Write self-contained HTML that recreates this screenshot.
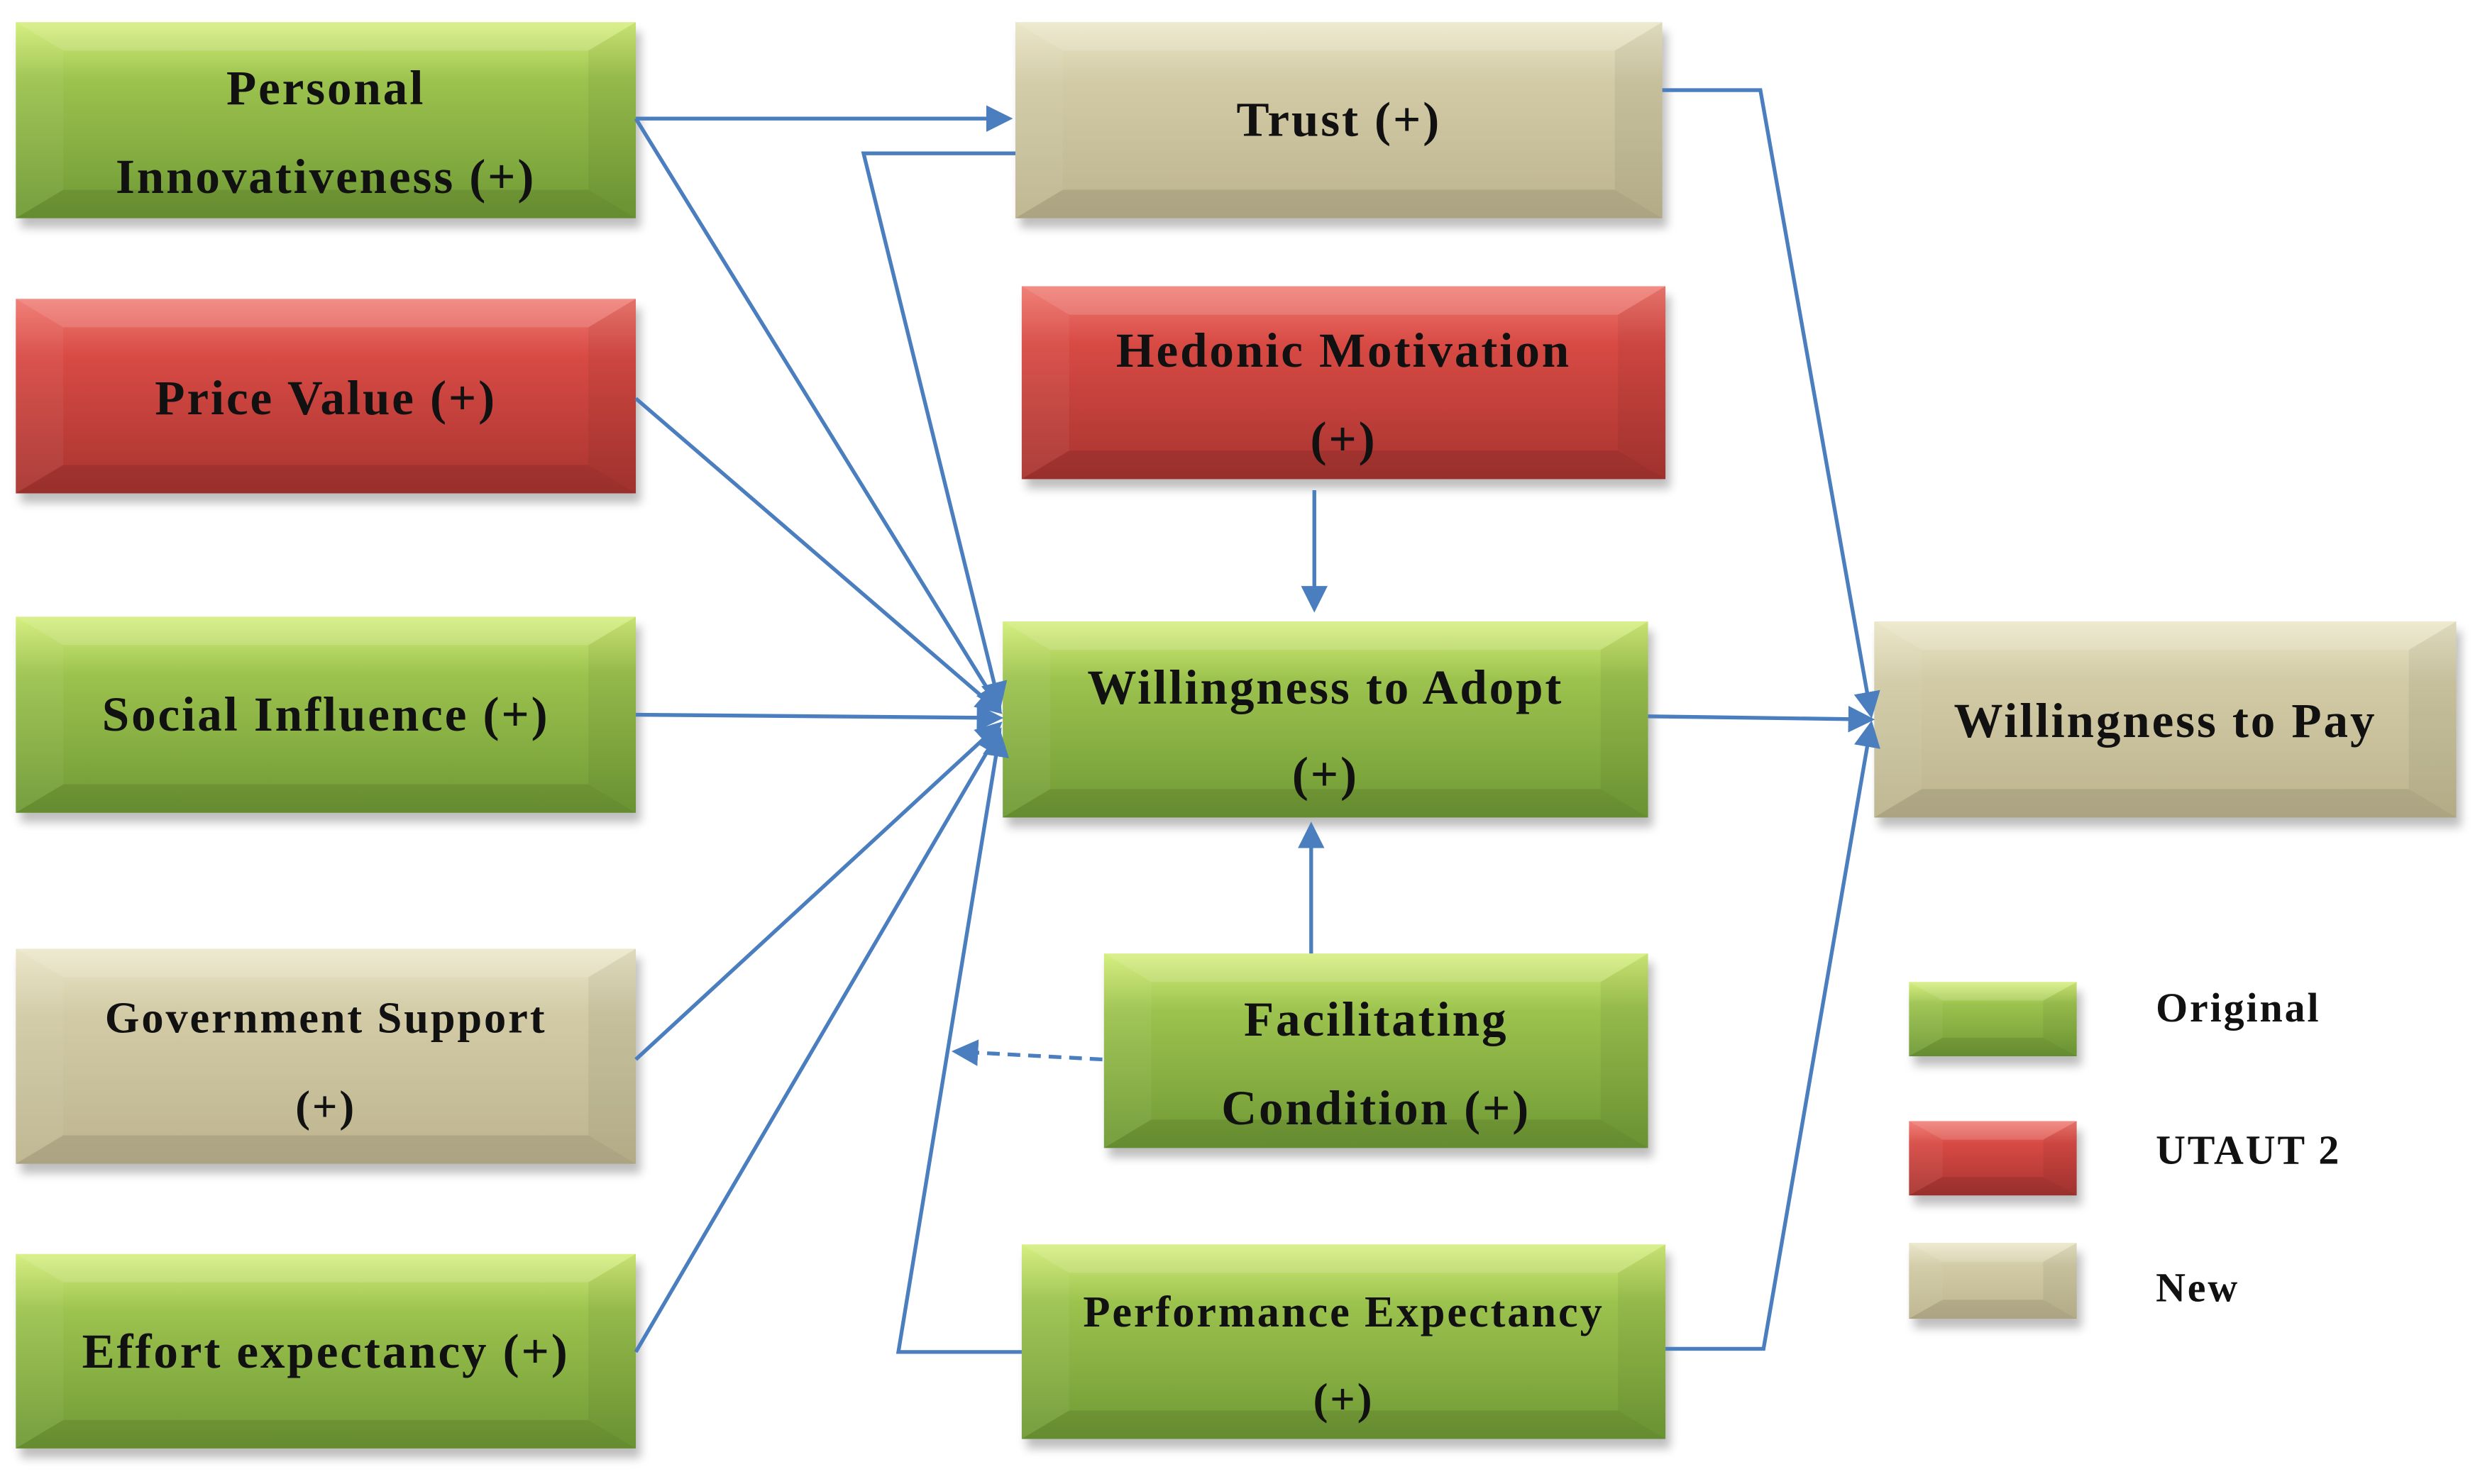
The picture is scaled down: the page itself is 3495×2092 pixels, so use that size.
<!DOCTYPE html>
<html><head><meta charset="utf-8"><style>
html,body{margin:0;padding:0;background:#fff;}
svg{display:block}
text{font-family:"Liberation Serif",serif;font-weight:bold;fill:#111;text-anchor:middle;letter-spacing:1.3px}
</style></head><body>
<svg width="3495" height="2092" viewBox="0 0 1568 938.5" preserveAspectRatio="none" xmlns="http://www.w3.org/2000/svg">
<defs>
<linearGradient id="g" x1="0" y1="0" x2="0" y2="1"><stop offset="0" stop-color="#d4ee7a"/><stop offset="0.3" stop-color="#9cc24e"/><stop offset="1" stop-color="#6f9a35"/></linearGradient>
<linearGradient id="r" x1="0" y1="0" x2="0" y2="1"><stop offset="0" stop-color="#f07a72"/><stop offset="0.3" stop-color="#d84a44"/><stop offset="1" stop-color="#a83430"/></linearGradient>
<linearGradient id="t" x1="0" y1="0" x2="0" y2="1"><stop offset="0" stop-color="#ebe6c8"/><stop offset="0.3" stop-color="#d2cba6"/><stop offset="1" stop-color="#bdb48e"/></linearGradient>
<filter id="sh" x="-10%" y="-10%" width="130%" height="140%"><feGaussianBlur stdDeviation="3"/></filter>
<marker id="a" markerWidth="7" markerHeight="7" refX="6" refY="3.5" orient="auto" markerUnits="strokeWidth"><path d="M0,0 L7,3.5 L0,7 z" fill="#4a7ebf"/></marker>
</defs>
<g fill="#888" opacity="0.55" filter="url(#sh)">
<rect x="13" y="20" width="392" height="124"/><rect x="13" y="195" width="392" height="123"/>
<rect x="13" y="396" width="392" height="124"/><rect x="13" y="606" width="392" height="136"/>
<rect x="13" y="799" width="392" height="123"/><rect x="645" y="20" width="409" height="124"/>
<rect x="649" y="187" width="407" height="122"/><rect x="637" y="399" width="408" height="124"/>
<rect x="701" y="609" width="344" height="123"/><rect x="649" y="793" width="407" height="123"/>
<rect x="1188" y="399" width="368" height="124"/>
<rect x="1210" y="627" width="106" height="47"/><rect x="1210" y="715" width="106" height="47"/><rect x="1210" y="792" width="106" height="48"/>
</g>
<g id="B"></g>
<g id="L" stroke="#4a7ebf" stroke-width="2.4" fill="none">
<line x1="402" y1="75" x2="638" y2="75" marker-end="url(#a)"/>
<line x1="402" y1="75" x2="632" y2="448" marker-end="url(#a)"/>
<line x1="402" y1="252" x2="632" y2="450" marker-end="url(#a)"/>
<line x1="402" y1="452" x2="632" y2="454" marker-end="url(#a)"/>
<line x1="402" y1="670" x2="632" y2="458" marker-end="url(#a)"/>
<line x1="402" y1="855" x2="632" y2="462" marker-end="url(#a)"/>
<polyline points="642,97 546,97 632,446" marker-end="url(#a)"/>
<polyline points="646,855 568,855 632,464" marker-end="url(#a)"/>
<polyline points="1051,57 1113,57 1183,452" marker-end="url(#a)"/>
<polyline points="1053,853 1115,853 1183,458" marker-end="url(#a)"/>
<line x1="1042" y1="453" x2="1183" y2="455" marker-end="url(#a)"/>
<line x1="831" y1="310" x2="831" y2="385" marker-end="url(#a)"/>
<line x1="829" y1="603" x2="829" y2="522" marker-end="url(#a)"/>
<line x1="697" y1="670" x2="604" y2="665" stroke-dasharray="8,5" marker-end="url(#a)"/>
</g>
</svg>
<script>
var s=document.querySelector('svg'),B=document.getElementById('B'),NS='http://www.w3.org/2000/svg';
function el(t,a,p){var e=document.createElementNS(NS,t);for(var k in a)e.setAttribute(k,a[k]);(p||B).appendChild(e);return e;}
function box(x,y,w,h,c,lines,fs){
 el('rect',{x:x,y:y,width:w,height:h,fill:'url(#'+c+')'});
 var b=Math.min(18,h/4),s=Math.min(30,w/5);
 el('polygon',{points:[x,y,x+w,y,x+w-s,y+b,x+s,y+b].join(' '),fill:'#fff',opacity:0.15});
 el('polygon',{points:[x,y,x+s,y+b,x+s,y+h-b,x,y+h].join(' '),fill:'#fff',opacity:0.05});
 el('polygon',{points:[x+w,y,x+w,y+h,x+w-s,y+h-b,x+w-s,y+b].join(' '),fill:'#000',opacity:0.05});
 el('polygon',{points:[x,y+h,x+w,y+h,x+w-s,y+h-b,x+s,y+h-b].join(' '),fill:'#000',opacity:0.09});
 if(!lines)return;
 lines.forEach(function(l){var t=el('text',{x:x+w/2,y:l[1],'font-size':fs||31});t.textContent=l[0];});
}
box(10,14,392,124,'g',[['Personal',66],['Innovativeness (+)',122]]);
box(10,189,392,123,'r',[['Price Value (+)',262]]);
box(10,390,392,124,'g',[['Social Influence (+)',462]]);
box(10,600,392,136,'t',[['Government Support',653],['(+)',709]],28);
box(10,793,392,123,'g',[['Effort expectancy (+)',865]]);
box(642,14,409,124,'t',[['Trust (+)',86]]);
box(646,181,407,122,'r',[['Hedonic Motivation',232],['(+)',288]]);
box(634,393,408,124,'g',[['Willingness to Adopt',445],['(+)',500]]);
box(698,603,344,123,'g',[['Facilitating',655],['Condition (+)',711]]);
box(646,787,407,123,'g',[['Performance Expectancy',839],['(+)',894]],28);
box(1185,393,368,124,'t',[['Willingness to Pay',466]]);
box(1207,621,106,47,'g');box(1207,709,106,47,'r');box(1207,786,106,48,'t');
[['Original',646],['UTAUT 2',736],['New',823]].forEach(function(l){var t=el('text',{x:1363,y:l[1],'font-size':26,'text-anchor':'start'});t.style.textAnchor='start';t.textContent=l[0];});
s.appendChild(document.getElementById('L'));
</script>
</body></html>
